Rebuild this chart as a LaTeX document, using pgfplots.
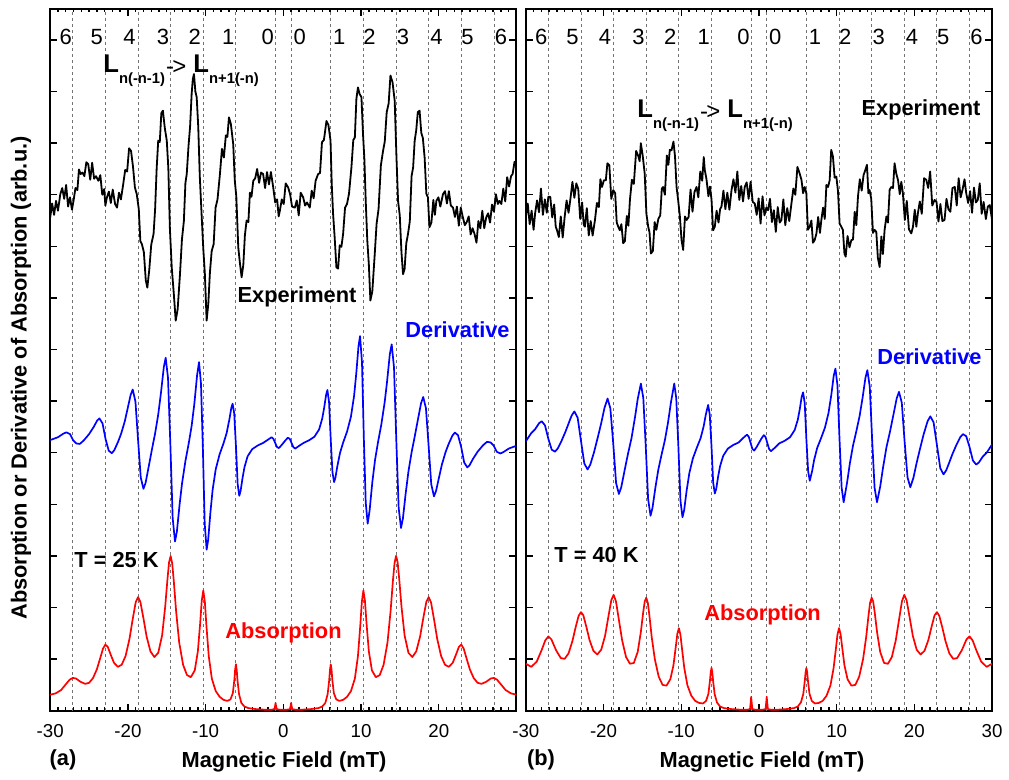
\documentclass[border=0pt]{standalone}
\usepackage{fontspec}
\setmainfont{Liberation Sans}
\usepackage{pgfplots}
\pgfplotsset{compat=1.18}

\newcommand{\blab}{\fontsize{10.9pt}{12pt}\selectfont\bfseries}
\newcommand{\Lformula}{{\fontsize{12.8pt}{14pt}\selectfont\bfseries L}\raisebox{-5.5pt}{\fontsize{7.4pt}{9pt}\selectfont\bfseries n(-n-1)}\kern0.5pt\raisebox{-1pt}{\fontsize{12pt}{14pt}\selectfont -\kern-0.8pt>}\kern3.5pt{\fontsize{12.8pt}{14pt}\selectfont\bfseries L}\raisebox{-5.5pt}{\fontsize{7.4pt}{9pt}\selectfont\bfseries n+1(-n)}}

\tikzset{topnum/.style={font=\fontsize{11pt}{13pt}\selectfont, inner sep=0pt}}

\pgfplotsset{
  panel/.style={
    scale only axis, width=233.15pt, height=350.85pt,
    xmin=-30, xmax=30, ymin=0, ymax=13.6,
    xtick={-30,-20,...,30}, minor x tick num=9,
    ytick={1,2,...,13}, yticklabels={},
    tick align=inside, xtick pos=both, ytick pos=both,
    major tick length=3.5pt, minor tick length=1.75pt,
    tick style={black, line width=0.7pt},
    axis line style={line width=1pt},
    /pgf/number format/assume math mode=true,
    xticklabel style={font=\fontsize{9.35pt}{11pt}\selectfont, yshift=-3.5pt},
    extra x ticks={-27.1,-22.9,-18.7,-14.5,-10.3,-6.1,-1,1,6.1,10.3,14.5,18.7,22.9,27.1},
    extra x tick labels={},
    extra x tick style={grid=major, major grid style={black!55, line width=0.45pt, dash pattern=on 1.5pt off 1.5pt}, tick style={draw=none}},
  },
}

\begin{document}
\begin{tikzpicture}
\useasboundingbox (0,0) rectangle (504.5pt,390pt);

% ---------------- panel (a) ----------------
\begin{axis}[panel, at={(25.1pt,34.65pt)}, anchor=south west, xticklabels={-30,-20,-10,0,10,20,{}}]
\addplot[black, line width=0.9pt, line join=round] coordinates {
(-30,9.56) (-29.75,9.83) (-29.5,9.61) (-29.25,9.88) (-29.0,9.69) (-28.7,10.01) (-28.45,10.13) (-28.2,9.92) (-27.95,10.19) (-27.7,9.77) (-27.45,9.95) (-27.2,9.71) (-27.0,9.88) (-26.75,10.13) (-26.5,10.09) (-26.3,10.49) (-26.1,10.40) (-25.85,10.43) (-25.6,10.36) (-25.35,10.63) (-25.1,10.59) (-24.85,10.29) (-24.6,10.62) (-24.35,10.31) (-24.1,10.36) (-23.8,10.27) (-23.55,10.38) (-23.3,10.00) (-23.05,10.11) (-22.9,9.79) (-22.7,9.95) (-22.45,10.06) (-22.2,9.84) (-21.95,10.10) (-21.65,9.82) (-21.4,9.75) (-21.15,10.04) (-20.9,9.91) (-20.6,10.21) (-20.35,10.48) (-20.1,10.45) (-19.85,10.90) (-19.6,10.85) (-19.35,10.55) (-19.1,10.14) (-18.86,10.01) (-18.6,9.72) (-18.4,9.10) (-18.2,9.04) (-17.95,8.89) (-17.7,8.34) (-17.5,8.20) (-17.25,8.55) (-17.0,9.03) (-16.7,9.24) (-16.5,9.72) (-16.3,10.51) (-16.1,11.05) (-15.9,11.02) (-15.7,11.58) (-15.5,11.63) (-15.25,11.29) (-15.0,11.05) (-14.8,10.52) (-14.6,9.35) (-14.36,8.59) (-14.1,8.09) (-13.85,7.56) (-13.6,7.78) (-13.3,8.46) (-13.05,9.13) (-12.8,9.49) (-12.6,10.23) (-12.43,10.40) (-12.2,10.95) (-12.0,11.32) (-11.8,11.95) (-11.65,12.24) (-11.5,12.34) (-11.32,12.0) (-11.15,11.89) (-10.95,11.32) (-10.75,10.35) (-10.5,9.56) (-10.3,8.95) (-10.1,8.47) (-9.87,7.56) (-9.65,7.90) (-9.45,8.49) (-9.22,8.91) (-8.97,9.04) (-8.72,9.75) (-8.47,9.91) (-8.16,10.40) (-7.9,10.89) (-7.65,10.72) (-7.4,11.15) (-7.2,11.12) (-7.0,11.50) (-6.75,11.37) (-6.45,10.98) (-6.25,10.28) (-6.05,9.96) (-5.8,8.98) (-5.6,8.69) (-5.37,8.40) (-5.15,8.64) (-4.95,9.21) (-4.73,9.50) (-4.5,9.47) (-4.3,10.04) (-4.1,9.96) (-3.87,10.27) (-3.62,10.32) (-3.37,10.50) (-3.12,10.23) (-2.87,10.43) (-2.6,10.40) (-2.35,10.13) (-2.1,10.44) (-1.85,10.20) (-1.6,10.44) (-1.3,10.14) (-1.05,9.85) (-0.8,9.91) (-0.6,9.58) (-0.45,9.69) (-0.2,9.91) (0.05,9.82) (0.3,10.22) (0.62,10.14) (0.87,10.01) (1.12,9.77) (1.48,9.75) (1.73,9.89) (1.98,9.60) (2.23,10.04) (2.55,9.95) (2.8,9.79) (3.05,9.85) (3.4,9.75) (3.65,10.08) (3.9,9.93) (4.15,10.27) (4.47,10.40) (4.72,10.42) (4.97,11.02) (5.22,11.06) (5.55,11.43) (5.8,11.35) (6.07,11.05) (6.23,10.20) (6.4,9.63) (6.6,9.18) (6.83,8.59) (7.05,8.57) (7.25,9.02) (7.47,8.99) (7.69,9.24) (7.94,9.75) (8.19,9.82) (8.45,10.02) (8.76,10.53) (9.0,11.06) (9.2,11.11) (9.4,11.86) (9.6,12.08) (9.82,11.95) (10.05,11.89) (10.25,11.18) (10.43,10.68) (10.6,9.88) (10.8,9.12) (11.0,8.65) (11.2,7.95) (11.45,8.13) (11.76,8.85) (12.0,9.44) (12.25,9.72) (12.55,10.57) (12.83,10.85) (13.05,11.03) (13.3,11.60) (13.55,11.77) (13.78,12.31) (14.05,12.18) (14.33,11.82) (14.55,10.75) (14.76,9.88) (14.98,9.60) (15.2,8.88) (15.4,8.46) (15.6,8.56) (15.82,9.06) (16.04,9.24) (16.27,9.48) (16.5,10.36) (16.7,10.53) (16.9,11.05) (17.1,11.25) (17.3,11.60) (17.53,11.63) (17.75,11.20) (17.95,11.10) (18.18,10.72) (18.4,10.02) (18.6,9.95) (18.8,9.37) (19.05,9.46) (19.3,9.90) (19.5,9.61) (19.69,9.88) (19.95,9.95) (20.2,9.77) (20.54,10.01) (20.8,10.07) (21.05,9.83) (21.3,10.07) (21.55,9.79) (21.83,9.75) (22.08,9.57) (22.33,9.77) (22.58,9.40) (22.83,9.75) (23.1,9.56) (23.35,9.41) (23.6,9.47) (23.85,9.58) (24.1,9.23) (24.35,9.35) (24.6,9.24) (24.85,9.07) (25.1,9.49) (25.35,9.35) (25.6,9.69) (25.85,9.35) (26.1,9.56) (26.35,9.64) (26.6,9.46) (26.85,9.81) (27.1,9.67) (27.35,10.01) (27.6,9.82) (27.8,9.88) (28.05,9.82) (28.3,10.12) (28.55,9.87) (28.8,10.34) (29.05,10.16) (29.3,10.36) (29.5,10.40) (29.75,10.64) (30,10.53)
};
\addplot[blue, line width=0.85pt, line join=round] coordinates {
(-30,5.245) (-29.0,5.30) (-28.3,5.37) (-27.9,5.395) (-27.45,5.36) (-27.05,5.24) (-26.65,5.18) (-26.2,5.17) (-25.7,5.235) (-25.0,5.36) (-24.4,5.50) (-23.95,5.625) (-23.67,5.665) (-23.27,5.57) (-22.87,5.26) (-22.47,5.04) (-22.07,4.99) (-21.75,5.05) (-21.27,5.21) (-20.87,5.37) (-20.4,5.61) (-20.0,5.88) (-19.65,6.12) (-19.38,6.225) (-19.03,5.99) (-18.69,5.24) (-18.35,4.52) (-18.0,4.30) (-17.72,4.42) (-17.3,4.75) (-16.9,5.07) (-16.5,5.375) (-16.1,5.74) (-15.74,6.17) (-15.38,6.66) (-15.14,6.84) (-14.84,6.45) (-14.54,5.165) (-14.24,3.73) (-13.94,3.28) (-13.7,3.47) (-13.34,4.01) (-13.04,4.40) (-12.6,4.84) (-12.2,5.16) (-11.8,5.52) (-11.45,5.95) (-11.1,6.50) (-10.85,6.755) (-10.6,6.345) (-10.36,5.115) (-10.12,3.63) (-9.87,3.12) (-9.67,3.315) (-9.38,3.85) (-9.1,4.28) (-8.7,4.68) (-8.2,4.97) (-7.7,5.18) (-7.3,5.38) (-6.95,5.64) (-6.7,5.865) (-6.53,5.95) (-6.32,5.76) (-6.1,5.13) (-5.88,4.395) (-5.67,4.165) (-5.5,4.26) (-5.24,4.52) (-5.0,4.72) (-4.6,4.93) (-4.0,5.07) (-3.3,5.14) (-2.6,5.19) (-2.0,5.25) (-1.52,5.30) (-1.28,5.27) (-1.05,5.19) (-0.82,5.11) (-0.58,5.09) (-0.3,5.135) (0,5.19)
(0.3,5.245) (0.58,5.29) (0.82,5.27) (1.05,5.19) (1.28,5.11) (1.52,5.08) (2.0,5.13) (2.6,5.19) (3.3,5.24) (4.0,5.31) (4.6,5.45) (5.0,5.66) (5.24,5.86) (5.5,6.12) (5.67,6.215) (5.88,5.985) (6.1,5.25) (6.32,4.62) (6.53,4.43) (6.7,4.515) (6.95,4.74) (7.3,5.0) (7.7,5.2) (8.2,5.41) (8.7,5.70) (9.1,6.10) (9.38,6.53) (9.67,7.065) (9.87,7.26) (10.12,6.75) (10.36,5.265) (10.6,4.035) (10.85,3.625) (11.1,3.88) (11.45,4.43) (11.8,4.86) (12.2,5.22) (12.6,5.54) (13.04,5.98) (13.34,6.37) (13.7,6.91) (13.94,7.10) (14.24,6.65) (14.54,5.215) (14.84,3.93) (15.14,3.54) (15.38,3.72) (15.74,4.21) (16.1,4.64) (16.5,5.005) (16.9,5.31) (17.3,5.63) (17.72,5.96) (18.0,6.08) (18.35,5.86) (18.69,5.14) (19.03,4.39) (19.38,4.155) (19.65,4.26) (20.0,4.50) (20.4,4.77) (20.87,5.01) (21.27,5.17) (21.75,5.33) (22.07,5.39) (22.47,5.34) (22.87,5.12) (23.27,4.81) (23.67,4.715) (23.95,4.755) (24.4,4.88) (25.0,5.02) (25.7,5.145) (26.2,5.21) (26.65,5.20) (27.05,5.14) (27.45,5.02) (27.9,4.985) (28.3,5.01) (29.0,5.08) (30,5.135)
};
\addplot[red, line width=0.85pt, line join=round] coordinates {
(-30,.31) (-29.3,.335) (-28.6,.40) (-28.0,.51) (-27.5,.60) (-27.1,.635) (-26.7,.625) (-26.1,.56) (-25.5,.52) (-25.0,.54) (-24.5,.63) (-24.0,.80) (-23.6,1.00) (-23.2,1.205) (-22.9,1.28) (-22.6,1.24) (-22.2,1.08) (-21.8,.93) (-21.3,.85) (-20.8,.89) (-20.3,1.06) (-19.8,1.39) (-19.4,1.76) (-19.0,2.10) (-18.7,2.20) (-18.4,2.11) (-18.0,1.79) (-17.6,1.44) (-17.1,1.15) (-16.6,1.04) (-16.1,1.12) (-15.6,1.46) (-15.2,2.02) (-14.9,2.57) (-14.7,2.88) (-14.5,3.0) (-14.3,2.85) (-14.1,2.52) (-13.8,1.93) (-13.4,1.32) (-12.9,.89) (-12.4,.69) (-11.9,.65) (-11.4,.78) (-11.0,1.15) (-10.7,1.70) (-10.5,2.13) (-10.3,2.33) (-10.1,2.11) (-9.9,1.65) (-9.6,1.06) (-9.2,.62) (-8.7,.38) (-8.2,.27) (-7.7,.21) (-7.2,.19) (-6.8,.22) (-6.5,.34) (-6.3,.60) (-6.2,.80) (-6.1,.90) (-6.0,.79) (-5.9,.59) (-5.7,.32) (-5.4,.15) (-5.0,.08) (-4.5,.05) (-3.5,.03) (-2.5,.02) (-1.5,.02) (-1.15,.03) (-1.05,.10) (-1.0,.15) (-0.95,.10) (-0.85,.03) (-0.5,.02) (0,.02)
(0.5,.02) (0.85,.03) (0.95,.10) (1.0,.15) (1.05,.10) (1.15,.03) (1.5,.02) (2.5,.02) (3.5,.03) (4.5,.05) (5.0,.08) (5.4,.15) (5.7,.32) (5.9,.59) (6.0,.79) (6.1,.90) (6.2,.80) (6.3,.60) (6.5,.34) (6.8,.22) (7.2,.19) (7.7,.21) (8.2,.27) (8.7,.38) (9.2,.62) (9.6,1.06) (9.9,1.65) (10.1,2.11) (10.3,2.33) (10.5,2.13) (10.7,1.70) (11.0,1.15) (11.4,.78) (11.9,.65) (12.4,.69) (12.9,.89) (13.4,1.32) (13.8,1.93) (14.1,2.52) (14.3,2.85) (14.5,3.0) (14.7,2.88) (14.9,2.57) (15.2,2.02) (15.6,1.46) (16.1,1.12) (16.6,1.04) (17.1,1.15) (17.6,1.44) (18.0,1.79) (18.4,2.11) (18.7,2.20) (19.0,2.10) (19.4,1.76) (19.8,1.39) (20.3,1.06) (20.8,.89) (21.3,.85) (21.8,.93) (22.2,1.08) (22.6,1.24) (22.9,1.28) (23.2,1.205) (23.6,1.00) (24.0,.80) (24.5,.63) (25.0,.54) (25.5,.52) (26.1,.56) (26.7,.625) (27.1,.635) (27.5,.60) (28.0,.51) (28.6,.40) (29.3,.335) (30,.31)
};
\node[topnum] at (axis cs:-28.0,13.06) {6};
\node[topnum] at (axis cs:-24.0,13.06) {5};
\node[topnum] at (axis cs:-19.8,13.06) {4};
\node[topnum] at (axis cs:-15.5,13.06) {3};
\node[topnum] at (axis cs:-11.4,13.06) {2};
\node[topnum] at (axis cs:-7.1,13.06) {1};
\node[topnum] at (axis cs:-2.0,13.06) {0};
\node[topnum] at (axis cs:2.1,13.06) {0};
\node[topnum] at (axis cs:7.2,13.06) {1};
\node[topnum] at (axis cs:11.1,13.06) {2};
\node[topnum] at (axis cs:15.4,13.06) {3};
\node[topnum] at (axis cs:19.7,13.06) {4};
\node[topnum] at (axis cs:23.7,13.06) {5};
\node[topnum] at (axis cs:28.0,13.06) {6};
\end{axis}

% ---------------- panel (b) ----------------
\begin{axis}[panel, at={(262.9pt,34.65pt)}, anchor=south west]
\addplot[black, line width=0.9pt, line join=round] coordinates {
(-30,9.57) (-29.75,9.83) (-29.5,9.43) (-29.25,9.69) (-29.0,9.32) (-28.8,9.64) (-28.55,9.89) (-28.3,9.66) (-28.05,10.12) (-27.8,9.61) (-27.55,9.91) (-27.3,9.65) (-27.1,9.96) (-26.85,9.96) (-26.6,9.56) (-26.35,9.81) (-26.15,9.38) (-26.0,9.32) (-25.75,9.18) (-25.5,9.58) (-25.25,9.17) (-25.0,9.57) (-24.75,9.89) (-24.5,9.65) (-24.25,9.93) (-24.0,10.25) (-23.75,9.94) (-23.5,10.22) (-23.25,10.11) (-23.0,9.53) (-22.75,9.85) (-22.55,9.42) (-22.4,9.38) (-22.15,9.74) (-21.9,9.21) (-21.65,9.49) (-21.4,9.21) (-21.1,9.51) (-20.85,9.84) (-20.6,9.76) (-20.4,10.30) (-20.2,10.15) (-19.95,10.28) (-19.7,10.28) (-19.5,10.61) (-19.25,10.57) (-19.0,9.92) (-18.75,10.09) (-18.5,10.03) (-18.3,9.46) (-18.1,9.38) (-17.9,9.31) (-17.7,9.43) (-17.47,9.06) (-17.25,9.10) (-17.0,9.59) (-16.8,9.40) (-16.6,9.90) (-16.35,10.29) (-16.1,10.21) (-15.8,10.85) (-15.5,10.74) (-15.35,10.65) (-15.2,11.0) (-14.95,10.75) (-14.7,10.41) (-14.48,9.63) (-14.25,9.38) (-14.08,9.27) (-13.9,8.86) (-13.65,8.91) (-13.42,9.47) (-13.2,9.32) (-12.95,9.53) (-12.7,9.60) (-12.5,10.12) (-12.33,10.15) (-12.1,10.00) (-11.85,10.76) (-11.65,10.58) (-11.47,10.87) (-11.25,10.86) (-11.0,11.03) (-10.8,10.74) (-10.6,10.15) (-10.4,9.90) (-10.18,9.59) (-9.96,9.12) (-9.75,8.93) (-9.52,9.58) (-9.3,9.51) (-9.05,9.57) (-8.8,10.10) (-8.55,9.67) (-8.3,10.05) (-8.03,10.15) (-7.8,9.95) (-7.55,10.45) (-7.3,10.27) (-7.1,10.73) (-6.97,10.48) (-6.75,10.30) (-6.5,9.97) (-6.3,10.16) (-6.1,9.90) (-5.9,9.31) (-5.68,9.38) (-5.45,9.69) (-5.2,9.46) (-5.0,9.72) (-4.82,9.77) (-4.57,10.08) (-4.32,9.72) (-4.07,10.04) (-3.8,9.71) (-3.53,10.09) (-3.28,10.30) (-3.03,10.04) (-2.78,10.45) (-2.53,9.90) (-2.28,10.17) (-2.05,9.87) (-1.83,10.15) (-1.58,10.24) (-1.33,9.92) (-1.08,10.25) (-0.8,9.86) (-0.54,9.83) (-0.29,9.61) (-0.04,9.93) (0.21,9.44) (0.46,9.97) (0.71,9.60) (0.95,9.75) (1.17,9.70) (1.42,9.92) (1.67,9.47) (1.92,9.70) (2.17,9.28) (2.42,9.76) (2.67,9.46) (2.89,9.51) (3.14,9.91) (3.39,9.41) (3.64,9.74) (3.9,9.49) (4.18,9.83) (4.43,10.12) (4.68,10.00) (4.95,10.54) (5.24,10.41) (5.47,10.29) (5.68,10.03) (5.89,10.15) (6.1,10.03) (6.3,9.32) (6.53,9.38) (6.75,9.50) (6.95,9.07) (7.17,9.12) (7.4,9.25) (7.62,9.57) (7.85,9.26) (8.03,9.51) (8.25,9.75) (8.47,9.53) (8.68,10.19) (8.89,10.15) (9.1,10.28) (9.3,10.87) (9.52,10.74) (9.74,10.33) (9.96,10.35) (10.17,10.07) (10.38,9.44) (10.6,9.38) (10.8,9.32) (11.0,8.86) (11.16,8.80) (11.4,9.20) (11.65,8.98) (11.89,9.12) (12.1,9.13) (12.32,9.67) (12.53,9.41) (12.74,9.96) (12.98,10.30) (13.22,10.08) (13.46,10.38) (13.69,10.48) (13.9,10.58) (14.08,10.03) (14.24,10.09) (14.45,9.92) (14.67,9.26) (14.88,9.32) (15.1,9.28) (15.3,8.78) (15.53,8.60) (15.75,9.19) (15.95,8.85) (16.17,9.32) (16.4,9.58) (16.6,9.46) (16.82,10.10) (17.03,10.15) (17.25,10.13) (17.45,10.61) (17.67,10.41) (17.9,10.28) (18.12,10.01) (18.32,10.25) (18.52,10.03) (18.77,9.51) (19.02,9.88) (19.3,9.33) (19.6,9.25) (19.82,9.38) (20.05,9.71) (20.25,9.38) (20.45,9.64) (20.7,9.87) (20.95,9.63) (21.25,10.32) (21.53,10.29) (21.78,10.13) (22.03,10.45) (22.3,9.79) (22.6,9.90) (22.85,9.86) (23.1,9.48) (23.35,9.82) (23.6,9.49) (23.88,9.51) (24.13,9.92) (24.38,9.72) (24.63,9.67) (24.9,10.13) (25.2,10.15) (25.45,9.79) (25.7,10.32) (25.95,9.95) (26.2,10.10) (26.45,10.30) (26.67,10.03) (26.92,9.84) (27.17,10.07) (27.42,9.65) (27.67,10.14) (27.92,9.85) (28.16,9.90) (28.41,10.22) (28.66,9.63) (28.91,9.86) (29.2,9.53) (29.45,9.77) (29.7,9.80) (30,9.51)
};
\addplot[blue, line width=0.85pt, line join=round] coordinates {
(-30,5.22) (-29.3,5.38) (-28.8,5.455) (-28.3,5.57) (-27.95,5.61) (-27.53,5.53) (-27.1,5.27) (-26.67,5.06) (-26.25,5.02) (-25.9,5.08) (-25.4,5.23) (-24.9,5.405) (-24.45,5.585) (-24.1,5.72) (-23.75,5.80) (-23.33,5.68) (-22.9,5.23) (-22.47,4.79) (-22.05,4.675) (-21.7,4.77) (-21.2,5.02) (-20.7,5.32) (-20.3,5.57) (-19.88,5.865) (-19.48,6.05) (-19.12,5.86) (-18.75,5.18) (-18.38,4.41) (-18.02,4.20) (-17.72,4.33) (-17.29,4.655) (-16.85,4.98) (-16.4,5.28) (-15.95,5.685) (-15.6,6.04) (-15.19,6.34) (-14.88,6.06) (-14.57,5.14) (-14.26,4.10) (-13.95,3.78) (-13.7,3.93) (-13.33,4.32) (-12.95,4.67) (-12.55,4.95) (-12.1,5.245) (-11.7,5.585) (-11.34,5.96) (-10.9,6.34) (-10.64,6.055) (-10.37,5.13) (-10.1,4.07) (-9.84,3.75) (-9.62,3.89) (-9.31,4.26) (-8.95,4.61) (-8.5,4.89) (-8.0,5.095) (-7.5,5.285) (-7.1,5.52) (-6.85,5.73) (-6.54,5.925) (-6.33,5.74) (-6.11,5.14) (-5.89,4.42) (-5.68,4.21) (-5.5,4.295) (-5.25,4.54) (-5.0,4.74) (-4.6,4.94) (-4.0,5.08) (-3.3,5.15) (-2.6,5.20) (-2.0,5.29) (-1.54,5.35) (-1.31,5.31) (-1.08,5.195) (-0.85,5.075) (-0.62,5.04) (-0.3,5.11) (0,5.19)
(0.3,5.27) (0.62,5.34) (0.85,5.305) (1.08,5.185) (1.31,5.07) (1.54,5.03) (2.0,5.09) (2.6,5.18) (3.3,5.23) (4.0,5.30) (4.6,5.44) (5.0,5.64) (5.25,5.84) (5.5,6.085) (5.68,6.17) (5.89,5.96) (6.11,5.24) (6.33,4.64) (6.54,4.455) (6.85,4.65) (7.1,4.86) (7.5,5.095) (8.0,5.285) (8.5,5.49) (8.95,5.77) (9.31,6.12) (9.62,6.49) (9.84,6.63) (10.1,6.31) (10.37,5.25) (10.64,4.325) (10.9,4.04) (11.34,4.42) (11.7,4.795) (12.1,5.135) (12.55,5.43) (12.95,5.71) (13.33,6.06) (13.7,6.45) (13.95,6.60) (14.26,6.28) (14.57,5.24) (14.88,4.32) (15.19,4.04) (15.6,4.34) (15.95,4.695) (16.4,5.10) (16.85,5.40) (17.29,5.725) (17.72,6.05) (18.02,6.18) (18.38,5.97) (18.75,5.20) (19.12,4.52) (19.48,4.33) (19.88,4.515) (20.3,4.81) (20.7,5.06) (21.2,5.36) (21.7,5.61) (22.05,5.705) (22.47,5.59) (22.9,5.15) (23.33,4.70) (23.75,4.58) (24.1,4.66) (24.45,4.795) (24.9,4.975) (25.4,5.15) (25.9,5.30) (26.25,5.36) (26.67,5.32) (27.1,5.11) (27.53,4.85) (27.95,4.77) (28.3,4.81) (28.8,4.925) (29.3,5.0) (30,5.16)
};
\addplot[red, line width=0.85pt, line join=round] coordinates {
(-30,.91) (-29.3,.85) (-28.6,.95) (-28.0,1.16) (-27.5,1.36) (-27.1,1.44) (-26.7,1.38) (-26.1,1.17) (-25.5,1.02) (-25.0,1.005) (-24.5,1.11) (-24.0,1.35) (-23.6,1.61) (-23.2,1.84) (-22.9,1.91) (-22.6,1.85) (-22.2,1.62) (-21.8,1.37) (-21.3,1.16) (-20.8,1.09) (-20.3,1.18) (-19.8,1.45) (-19.4,1.80) (-19.0,2.14) (-18.7,2.245) (-18.4,2.12) (-18.0,1.74) (-17.6,1.36) (-17.1,1.04) (-16.6,.91) (-16.1,.925) (-15.6,1.14) (-15.2,1.52) (-14.9,1.90) (-14.7,2.115) (-14.5,2.19) (-14.3,2.09) (-14.1,1.85) (-13.8,1.43) (-13.4,1.0) (-12.9,.66) (-12.4,.50) (-11.9,.485) (-11.4,.61) (-11.0,.88) (-10.7,1.24) (-10.5,1.49) (-10.3,1.60) (-10.1,1.47) (-9.9,1.20) (-9.6,.82) (-9.2,.49) (-8.7,.29) (-8.2,.19) (-7.7,.15) (-7.2,.14) (-6.8,.19) (-6.5,.33) (-6.3,.59) (-6.2,.75) (-6.1,.83) (-6.0,.74) (-5.9,.58) (-5.7,.32) (-5.4,.16) (-5.0,.08) (-4.5,.05) (-3.5,.03) (-2.5,.02) (-1.5,.02) (-1.15,.03) (-1.05,.18) (-1.0,.27) (-0.95,.18) (-0.85,.03) (-0.5,.02) (0,.02)
(0.5,.02) (0.85,.03) (0.95,.18) (1.0,.27) (1.05,.18) (1.15,.03) (1.5,.02) (2.5,.02) (3.5,.03) (4.5,.05) (5.0,.08) (5.4,.16) (5.7,.32) (5.9,.58) (6.0,.74) (6.1,.83) (6.2,.75) (6.3,.59) (6.5,.33) (6.8,.19) (7.2,.14) (7.7,.15) (8.2,.19) (8.7,.29) (9.2,.49) (9.6,.82) (9.9,1.20) (10.1,1.47) (10.3,1.60) (10.5,1.49) (10.7,1.24) (11.0,.88) (11.4,.61) (11.9,.485) (12.4,.50) (12.9,.66) (13.4,1.0) (13.8,1.43) (14.1,1.85) (14.3,2.09) (14.5,2.19) (14.7,2.115) (14.9,1.90) (15.2,1.52) (15.6,1.14) (16.1,.925) (16.6,.91) (17.1,1.04) (17.6,1.36) (18.0,1.74) (18.4,2.12) (18.7,2.245) (19.0,2.14) (19.4,1.80) (19.8,1.45) (20.3,1.18) (20.8,1.09) (21.3,1.16) (21.8,1.37) (22.2,1.62) (22.6,1.85) (22.9,1.91) (23.2,1.84) (23.6,1.61) (24.0,1.35) (24.5,1.11) (25.0,1.005) (25.5,1.02) (26.1,1.17) (26.7,1.38) (27.1,1.44) (27.5,1.36) (28.0,1.16) (28.6,.95) (29.3,.85) (30,.91)
};
\node[topnum] at (axis cs:-28.0,13.06) {6};
\node[topnum] at (axis cs:-24.0,13.06) {5};
\node[topnum] at (axis cs:-19.8,13.06) {4};
\node[topnum] at (axis cs:-15.5,13.06) {3};
\node[topnum] at (axis cs:-11.4,13.06) {2};
\node[topnum] at (axis cs:-7.1,13.06) {1};
\node[topnum] at (axis cs:-2.0,13.06) {0};
\node[topnum] at (axis cs:2.1,13.06) {0};
\node[topnum] at (axis cs:7.2,13.06) {1};
\node[topnum] at (axis cs:11.1,13.06) {2};
\node[topnum] at (axis cs:15.4,13.06) {3};
\node[topnum] at (axis cs:19.7,13.06) {4};
\node[topnum] at (axis cs:23.7,13.06) {5};
\node[topnum] at (axis cs:28.0,13.06) {6};
\end{axis}

% ---------------- labels ----------------
\node[rotate=90, font=\blab, inner sep=0pt] at (10.5pt,201pt) {Absorption or Derivative of Absorption (arb.u.)};
\node[font=\blab, inner sep=0pt] at (31.5pt,10pt) {(a)};
\node[font=\blab, inner sep=0pt] at (142pt,9pt) {Magnetic Field (mT)};
\node[font=\blab, inner sep=0pt] at (270.5pt,10pt) {(b)};
\node[font=\blab, inner sep=0pt] at (381pt,9pt) {Magnetic Field (mT)};

\node[font=\blab, inner sep=0pt] at (148.5pt,241.5pt) {Experiment};
\node[font=\blab, text=blue, inner sep=0pt] at (228.75pt,225pt) {Derivative};
\node[font=\blab, inner sep=0pt] at (58.25pt,110pt) {T = 25 K};
\node[font=\blab, text=red, inner sep=0pt] at (141.75pt,73.5pt) {Absorption};
\node[anchor=base west, inner sep=0pt] at (51.5pt,353.5pt) {\Lformula};

\node[font=\blab, inner sep=0pt] at (460.5pt,335pt) {Experiment};
\node[font=\blab, text=blue, inner sep=0pt] at (464.75pt,211.5pt) {Derivative};
\node[font=\blab, inner sep=0pt] at (298.25pt,112.5pt) {T = 40 K};
\node[font=\blab, text=red, inner sep=0pt] at (381.25pt,82.5pt) {Absorption};
\node[anchor=base west, inner sep=0pt] at (318.5pt,331pt) {\Lformula};
\end{tikzpicture}
\end{document}
